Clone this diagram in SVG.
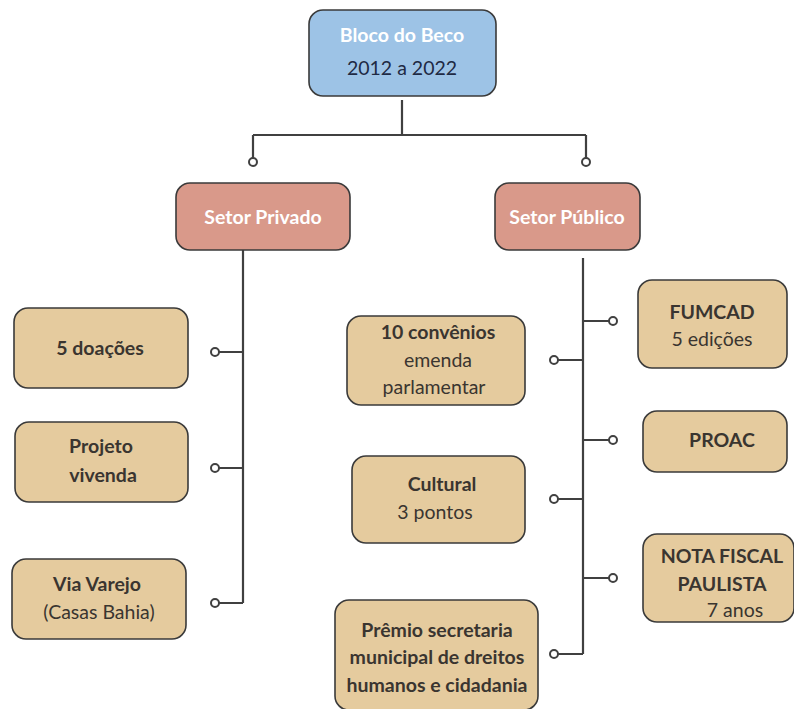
<svg xmlns="http://www.w3.org/2000/svg" width="794" height="709" viewBox="0 0 794 709">
<style>
.box{stroke:#3a3a3a;stroke-width:1.6}
.top{fill:#9dc3e6}
.sec{fill:#d9998a}
.leaf{fill:#e5cb9e}
text{font-family:Lato,"Liberation Sans",sans-serif;font-size:19.5px;text-anchor:middle;fill:#3a3530}
.b{font-weight:bold}
.w{fill:#ffffff;font-weight:bold}
.n{fill:#1f2a44}
.ln{fill:none;stroke:#404040;stroke-width:2.2}
.dot{fill:#ffffff;stroke:#404040;stroke-width:2}
</style>
<rect width="794" height="709" fill="#ffffff"/>
<g id="connectors">
<path class="ln" d="M402 100V135M253 135H586M253 135V160M586 135V160"/>
<path class="ln" d="M243 250V603M219 352H243M219 468H243M219 603H243"/>
<path class="ln" d="M583 258V654M583 321H609M558 360H583M583 440H609M558 499H583M583 578H609M558 654H583"/>
<circle class="dot" cx="253" cy="162" r="4"/>
<circle class="dot" cx="586" cy="162" r="4"/>
<circle class="dot" cx="215" cy="352" r="4"/>
<circle class="dot" cx="215" cy="468" r="4"/>
<circle class="dot" cx="215" cy="603" r="4"/>
<circle class="dot" cx="613" cy="321" r="4"/>
<circle class="dot" cx="554" cy="360" r="4"/>
<circle class="dot" cx="613" cy="440" r="4"/>
<circle class="dot" cx="554" cy="499" r="4"/>
<circle class="dot" cx="613" cy="578" r="4"/>
<circle class="dot" cx="554" cy="654" r="4"/>
</g>
<g id="bloco">
<rect class="box top" x="309" y="10" width="187" height="86" rx="14"/>
<text class="w" x="402" y="42">Bloco do Beco</text>
<text class="n" x="402" y="75">2012 a 2022</text>
</g>
<g id="privado">
<rect class="box sec" x="176" y="183" width="174" height="67" rx="14"/>
<text class="w" x="263" y="224">Setor Privado</text>
</g>
<g id="publico">
<rect class="box sec" x="495" y="183" width="145" height="67" rx="14"/>
<text class="w" x="567" y="224">Setor Público</text>
</g>
<g id="doacoes">
<rect class="box leaf" x="14" y="308" width="174" height="80" rx="14"/>
<text class="b" x="100" y="355">5 doações</text>
</g>
<g id="vivenda">
<rect class="box leaf" x="15" y="422" width="173" height="80" rx="14"/>
<text class="b" x="101" y="453">Projeto</text>
<text class="b" x="103" y="482">vivenda</text>
</g>
<g id="varejo">
<rect class="box leaf" x="12" y="559" width="174" height="80" rx="14"/>
<text class="b" x="97" y="591">Via Varejo</text>
<text x="99" y="619">(Casas Bahia)</text>
</g>
<g id="fumcad">
<rect class="box leaf" x="638" y="280" width="149" height="88" rx="14"/>
<text class="b" x="712" y="319">FUMCAD</text>
<text x="712" y="346">5 edições</text>
</g>
<g id="convenios">
<rect class="box leaf" x="347" y="316" width="178" height="89" rx="14"/>
<text class="b" x="438" y="339">10 convênios</text>
<text x="438" y="367">emenda</text>
<text x="434" y="394">parlamentar</text>
</g>
<g id="proac">
<rect class="box leaf" x="643" y="411" width="144" height="61" rx="14"/>
<text class="b" x="722" y="447">PROAC</text>
</g>
<g id="cultural">
<rect class="box leaf" x="352" y="456" width="173" height="87" rx="14"/>
<text class="b" x="442" y="491">Cultural</text>
<text x="435" y="519">3 pontos</text>
</g>
<g id="nota">
<rect class="box leaf" x="643" y="534" width="151" height="88" rx="14"/>
<text class="b" x="722" y="563">NOTA FISCAL</text>
<text class="b" x="722" y="591">PAULISTA</text>
<text x="735" y="617">7 anos</text>
</g>
<g id="premio">
<rect class="box leaf" x="335" y="600" width="203" height="110" rx="14"/>
<text class="b" x="437" y="637">Prêmio secretaria</text>
<text class="b" x="437" y="664">municipal de dreitos</text>
<text class="b" x="437" y="692">humanos e cidadania</text>
</g>
</svg>
